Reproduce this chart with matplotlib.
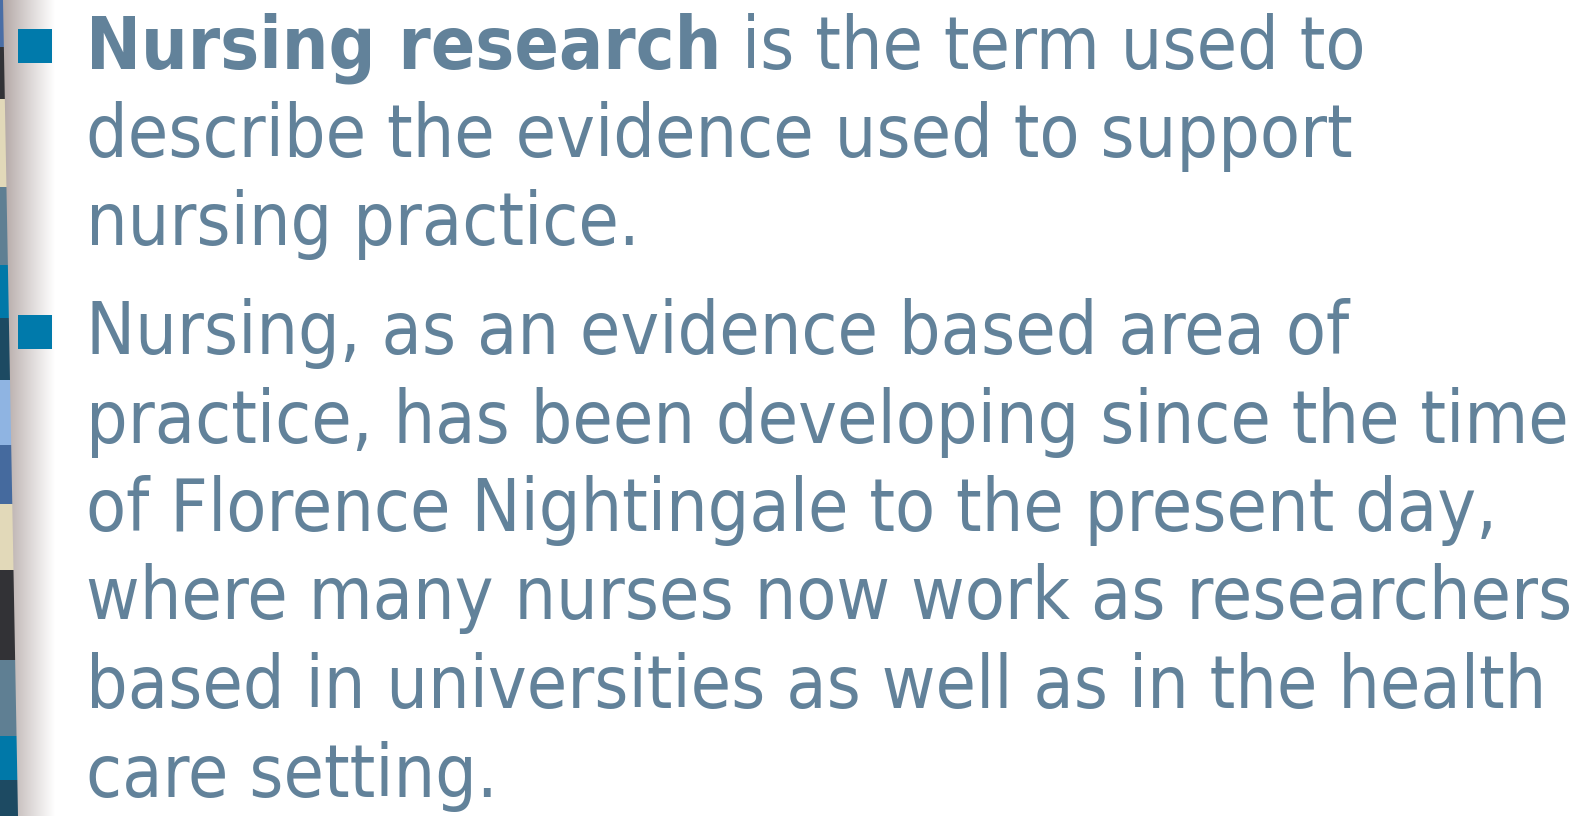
#!/usr/bin/env python3

import numpy as np
from matplotlib import pyplot as plt
from matplotlib.patches import Polygon, Rectangle

W, H = 1587, 816

# Left stripe: block boundaries (y, px) and colours
stripe_edges = [0, 47, 99, 187, 265, 318, 380, 445, 504, 570, 660, 736, 780, 816]
stripe_colors = ['#4a6ea6', '#323236', '#e2d9b9', '#5f7f93', '#0078a8', '#1d4a62',
                 '#8fb4e2', '#456a9e', '#e2d9b9', '#323236', '#5f7f93', '#0078a8', '#1d4a62']

# Slide text, one entry per rendered line: (bold part, regular part)
bullet1 = [("Nursing research", " is the term used to"),
           ("", "describe the evidence used to support"),
           ("", "nursing practice.")]
bullet2 = [("", "Nursing, as an evidence based area of"),
           ("", "practice, has been developing since the time"),
           ("", "of Florence Nightingale to the present day,"),
           ("", "where many nurses now work as researchers"),
           ("", "based in universities as well as in the health"),
           ("", "care setting.")]

text_color = '#62829a'
bullet_color = '#007aab'


def stripe_x(y):
    # right edge of the coloured blocks slants outward going down
    return 3 + 15 * y / H


def main():
    fig = plt.figure(figsize=(W / 100, H / 100), dpi=100)
    ax = fig.add_axes([0, 0, 1, 1])
    ax.set_xlim(0, W)
    ax.set_ylim(H, 0)
    ax.axis('off')

    # shadow gradient next to the stripe
    grad = np.linspace(0, 1, 256)[None, :]
    c0 = np.array([0.58, 0.52, 0.51])
    img = c0[None, None, :] * (1 - grad[..., None]) + grad[..., None]
    img = img ** 0.7
    ax.imshow(img, extent=[0, 55, H, 0], aspect='auto', zorder=1)

    for i, col in enumerate(stripe_colors):
        y0, y1 = stripe_edges[i], stripe_edges[i + 1]
        poly = Polygon([(0, y0), (stripe_x(y0), y0), (stripe_x(y1), y1), (0, y1)],
                       closed=True, facecolor=col, edgecolor='none', zorder=2)
        ax.add_patch(poly)

    fs = 52.6
    font = dict(family='DejaVu Sans', stretch='condensed')
    x_text = 86
    line_h = 88.5
    for lines, y_first, y_bullet in [(bullet1, 68, 29), (bullet2, 354, 315)]:
        ax.add_patch(Rectangle((18, y_bullet), 34, 34, facecolor=bullet_color,
                               edgecolor='none', zorder=3))
        for k, (bold, reg) in enumerate(lines):
            y = y_first + k * line_h
            if bold:
                t = ax.text(x_text, y, bold, fontsize=fs, fontweight='bold',
                            color=text_color, va='baseline', ha='left', zorder=3, **font)
                ax.annotate(reg, xy=(1, 0), xycoords=t, va='bottom', ha='left',
                            fontsize=fs, color=text_color, zorder=3, **font)
            else:
                ax.text(x_text, y, reg, fontsize=fs, color=text_color,
                        va='baseline', ha='left', zorder=3, **font)

    fig.savefig('out.png', dpi=100)


if __name__ == "__main__":
    main()
